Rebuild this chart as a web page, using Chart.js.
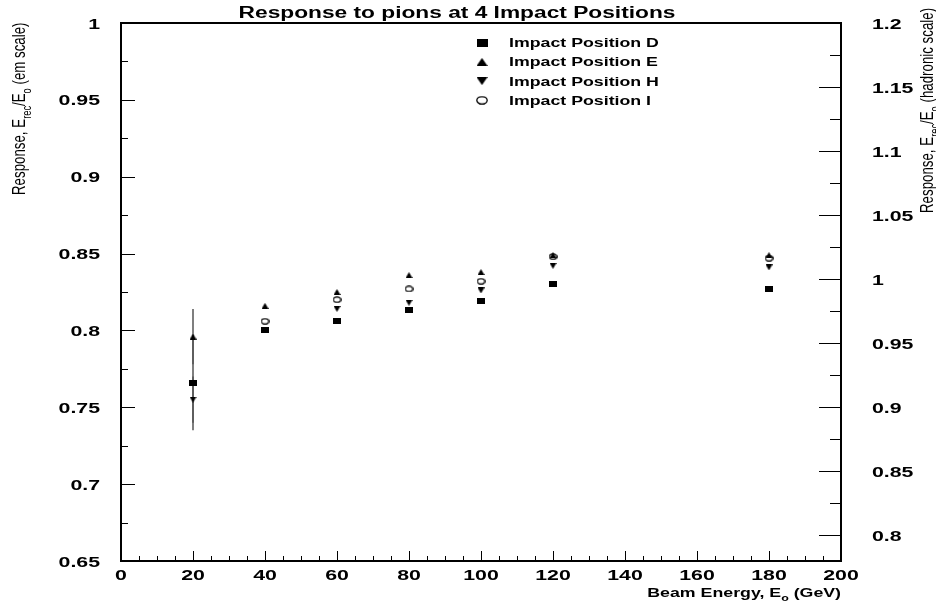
<!DOCTYPE html>
<html>
<head>
<meta charset="utf-8">
<title>Response to pions at 4 Impact Positions</title>
<script src="https://cdn.jsdelivr.net/npm/chart.js@4.4.1/dist/chart.umd.min.js"></script>
<style>
  html, body { margin: 0; padding: 0; background: #fff; }
  canvas { display: block; }
</style>
</head>
<body>
<canvas id="grafico" width="936" height="603"></canvas>
<script>
// values
const energies = [20, 40, 60, 80, 100, 120, 180];
const posD = [0.766, 0.800, 0.806, 0.813, 0.819, 0.830, 0.827];
const posE = [0.796, 0.816, 0.825, 0.836, 0.838, 0.849, 0.849];
const posH = [0.755, 0.800, 0.814, 0.818, 0.826, 0.842, 0.841];
const posI = [null, 0.806, 0.820, 0.827, 0.832, 0.848, 0.847];

// error bars (only the 20 GeV points have visible ones)
const errD = [0.031, 0, 0, 0, 0, 0, 0];
const errE = [0.018, 0, 0, 0, 0, 0, 0];
const errH = [0.015, 0, 0, 0, 0, 0, 0];
const errI = [0, 0, 0, 0, 0, 0, 0];

// tick labels
const energyTicks = [0, 20, 40, 60, 80, 100, 120, 140, 160, 180, 200];
const emTicks = [0.65, 0.7, 0.75, 0.8, 0.85, 0.9, 0.95, 1];
const hadTicks = [0.8, 0.85, 0.9, 0.95, 1, 1.05, 1.1, 1.15, 1.2];

const SX = 1.42; // the reference is stretched sideways
const FONT = '"Liberation Sans", Arial, Helvetica, sans-serif';

// text with optional subscripts, stretched like the original
function drawText(ctx, runs, x, y, size, bold, align, vertical) {
  if (typeof runs === 'string') runs = [{ t: runs }];
  ctx.save();
  ctx.translate(x, y);
  if (vertical) { ctx.rotate(-Math.PI / 2); ctx.scale(1, SX); }
  else ctx.scale(SX, 1);
  ctx.textAlign = 'left';
  ctx.textBaseline = 'alphabetic';
  ctx.fillStyle = '#000';
  const w = bold ? 'bold ' : '';
  const fontOf = r => w + (r.sub ? size * 0.7 : size) + 'px ' + FONT;
  let total = 0;
  runs.forEach(r => { ctx.font = fontOf(r); total += ctx.measureText(r.t).width; });
  let cx = align === 'right' ? -total : align === 'center' ? -total / 2 : 0;
  runs.forEach(r => {
    ctx.font = fontOf(r);
    ctx.fillText(r.t, cx, r.sub ? size * 0.3 : 0);
    cx += ctx.measureText(r.t).width;
  });
  ctx.restore();
}

// small canvases used as point styles
function marker(kind, w, h) {
  const c = document.createElement('canvas');
  c.width = w; c.height = h;
  const g = c.getContext('2d');
  g.fillStyle = '#000';
  g.strokeStyle = '#000';
  g.lineWidth = 1.3;
  g.beginPath();
  if (kind === 'square') {
    g.rect(0, 0, w, h); g.fill();
  } else if (kind === 'up') {
    g.moveTo(w / 2, 0); g.lineTo(w, h); g.lineTo(0, h); g.closePath(); g.fill();
  } else if (kind === 'down') {
    g.moveTo(0, 0); g.lineTo(w, 0); g.lineTo(w / 2, h); g.closePath(); g.fill();
  } else {
    g.ellipse(w / 2, h / 2, w / 2 - 0.8, h / 2 - 0.8, 0, 0, 2 * Math.PI); g.stroke();
  }
  return c;
}

const pointImgs = [marker('square', 8, 6), marker('up', 7, 6), marker('down', 7, 6), marker('circle', 9, 7)];
const legendImgs = [marker('square', 11, 8), marker('up', 11, 8), marker('down', 11, 8), marker('circle', 12, 9)];

const labels = ['Impact Position D', 'Impact Position E', 'Impact Position H', 'Impact Position I'];
const series = [posD, posE, posH, posI];
const errors = [errD, errE, errH, errI];

const datasets = series.map((vals, i) => ({
  label: labels[i],
  data: energies.map((e, j) => ({ x: e, y: vals[j] })).filter(p => p.y !== null),
  errs: energies.map((e, j) => errors[i][j]).filter((v, j) => vals[j] !== null),
  pointStyle: pointImgs[i],
  yAxisID: 'y',
  showLine: false
}));

function minorTicks(scale, minorStep, majorStep) {
  const out = [];
  const k0 = Math.ceil(scale.min / minorStep - 1e-6);
  const k1 = Math.floor(scale.max / minorStep + 1e-6);
  for (let k = k0; k <= k1; k++) {
    const v = k * minorStep;
    const r = v / majorStep;
    out.push({ v: v, major: Math.abs(r - Math.round(r)) < 1e-6 });
  }
  return out;
}

const decor = {
  id: 'decor',
  beforeDatasetsDraw(chart) {
    const ctx = chart.ctx;
    const y = chart.scales.y;
    ctx.save();
    ctx.strokeStyle = '#555';
    ctx.lineWidth = 1.5;
    chart.data.datasets.forEach((ds, i) => {
      const meta = chart.getDatasetMeta(i);
      ds.data.forEach((p, j) => {
        const e = ds.errs[j];
        if (!e) return;
        const px = meta.data[j].x;
        ctx.beginPath();
        ctx.moveTo(px, y.getPixelForValue(p.y + e));
        ctx.lineTo(px, y.getPixelForValue(p.y - e));
        ctx.stroke();
      });
    });
    ctx.restore();
  },
  afterDraw(chart) {
    const ctx = chart.ctx;
    const a = chart.chartArea;
    const { x, y, y2 } = chart.scales;

    // tick marks, pointing inwards
    ctx.save();
    ctx.strokeStyle = '#000';
    ctx.lineWidth = 1;
    ctx.beginPath();
    minorTicks(x, 5, 20).forEach(t => {
      const px = Math.round(x.getPixelForValue(t.v)) + 0.5;
      ctx.moveTo(px, a.bottom); ctx.lineTo(px, a.bottom - (t.major ? 10 : 5));
    });
    minorTicks(y, 0.025, 0.05).forEach(t => {
      const py = Math.round(y.getPixelForValue(t.v)) + 0.5;
      ctx.moveTo(a.left, py); ctx.lineTo(a.left + (t.major ? 14 : 7), py);
    });
    minorTicks(y2, 0.025, 0.05).forEach(t => {
      const py = Math.round(y2.getPixelForValue(t.v)) + 0.5;
      ctx.moveTo(a.right, py); ctx.lineTo(a.right - (t.major ? 22 : 11), py);
    });
    ctx.stroke();

    // frame
    ctx.lineWidth = 2;
    ctx.strokeRect(a.left, a.top, a.right - a.left, a.bottom - a.top);
    ctx.restore();

    // tick labels
    x.ticks.forEach(t => drawText(ctx, String(t.value), x.getPixelForValue(t.value), a.bottom + 18.5, 15, true, 'center'));
    y.ticks.forEach(t => drawText(ctx, String(t.value), a.left - 21, y.getPixelForValue(t.value) + 5.5, 15, true, 'right'));
    y2.ticks.forEach(t => drawText(ctx, String(t.value), a.right + 31, y2.getPixelForValue(t.value) + 5.5, 15, true, 'left'));

    // titles
    drawText(ctx, 'Response to pions at 4 Impact Positions', 457, 18, 16, true, 'center');
    drawText(ctx, [{ t: 'Beam Energy, E' }, { t: 'o', sub: true }, { t: ' (GeV)' }], a.right, 597, 12.5, true, 'right');
    drawText(ctx, [{ t: 'Response, E' }, { t: 'rec', sub: true }, { t: '/E' }, { t: 'o', sub: true }, { t: ' (em scale)' }], 25, 195, 13.3, false, 'left', true);
    drawText(ctx, [{ t: 'Response, E' }, { t: 'rec', sub: true }, { t: '/E' }, { t: 'o', sub: true }, { t: ' (hadronic scale)' }], 933, 213, 13.3, false, 'left', true);

    // legend inside the frame
    chart.data.datasets.forEach((ds, i) => {
      const cy = 42.7 + i * 19.2;
      const img = legendImgs[i];
      ctx.drawImage(img, 482 - img.width / 2, cy - img.height / 2);
      drawText(ctx, ds.label, 509, cy + 4.5, 12.5, true, 'left');
    });
  }
};

const noSpace = { display: false };

new Chart(document.getElementById('grafico'), {
  type: 'scatter',
  data: { datasets: datasets },
  options: {
    responsive: false,
    animation: false,
    events: [],
    layout: { padding: { left: 121, right: 95, top: 23, bottom: 42 } },
    elements: { point: { radius: 4, hoverRadius: 4 } },
    plugins: {
      legend: { display: false },
      title: { display: false },
      tooltip: { enabled: false }
    },
    scales: {
      x: {
        type: 'linear', min: 0, max: 200,
        afterBuildTicks: s => { s.ticks = energyTicks.map(v => ({ value: v })); },
        afterFit: s => { s.height = 0; },
        ticks: noSpace, grid: noSpace, border: noSpace
      },
      y: {
        type: 'linear', position: 'left', min: 0.65, max: 1,
        afterBuildTicks: s => { s.ticks = emTicks.map(v => ({ value: v })); },
        afterFit: s => { s.width = 0; },
        ticks: noSpace, grid: noSpace, border: noSpace
      },
      y2: {
        type: 'linear', position: 'right', min: 0.78, max: 1.2,
        afterBuildTicks: s => { s.ticks = hadTicks.map(v => ({ value: v })); },
        afterFit: s => { s.width = 0; },
        ticks: noSpace, grid: noSpace, border: noSpace
      }
    }
  },
  plugins: [decor]
});
</script>
</body>
</html>
